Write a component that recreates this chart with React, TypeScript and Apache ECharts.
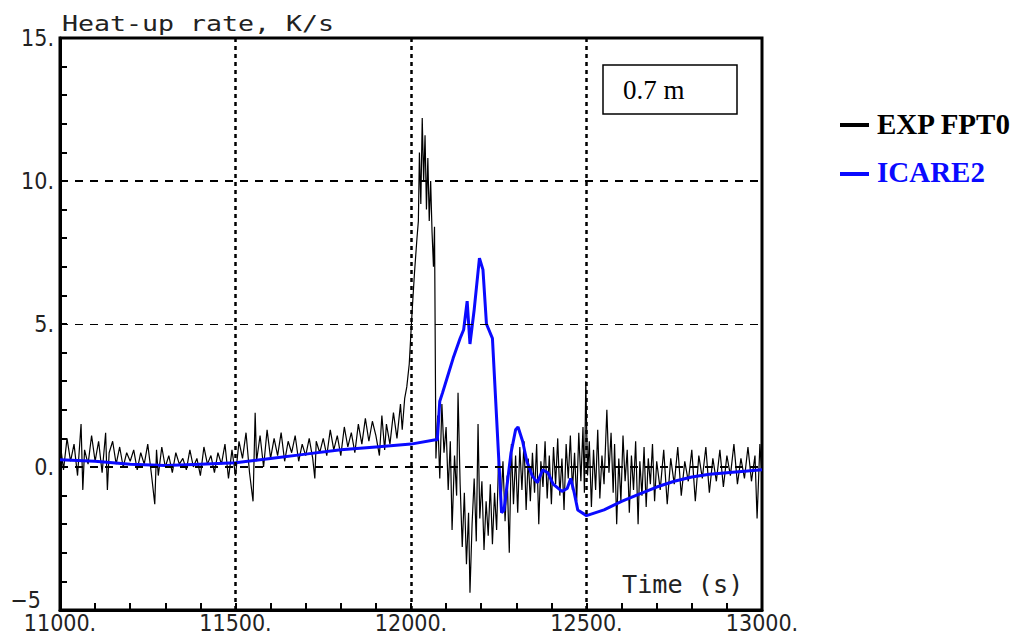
import React, { useEffect, useRef } from 'react';
import * as echarts from 'echarts';

const xRange = [11000, 13000];
const yRange = [-5, 15];
const xTickStep = 500;
const yTickStep = 5;
const verticalGrid = [11500, 12000, 12500];
const horizontalGrid = [10, 5, 0];
const seriesNames = ['EXP FPT0', 'ICARE2'];

const expData: [number, number][] = [
  [11000, 0.9], [11010, -0.1], [11020, 1.0], [11030, 0.2], [11040, 0.8], [11050, -0.3], [11060, 1.5], [11065, -0.8],
  [11070, 0.6], [11080, 0.1], [11090, 1.1], [11100, 0.2], [11110, 0.9], [11120, -0.2], [11130, 1.2], [11135, -0.8],
  [11140, 0.5], [11150, 0.9], [11160, 0.1], [11170, 0.7], [11180, 0.0], [11190, 0.5], [11200, 0.2], [11210, 0.6],
  [11220, -0.1], [11230, 0.5], [11240, 0.1], [11250, 0.8], [11260, -0.2], [11270, -1.3], [11275, 0.6], [11280, -0.3],
  [11290, 0.7], [11300, 0.0], [11310, 0.4], [11320, -0.2], [11330, 0.5], [11340, 0.1], [11350, 0.3], [11360, -0.1],
  [11370, 0.6], [11380, 0.0], [11390, 0.3], [11400, -0.3], [11410, 0.7], [11420, 0.1], [11430, 0.4], [11440, -0.2],
  [11450, 0.5], [11460, 0.1], [11470, 0.8], [11480, -0.4], [11490, 0.6], [11500, -0.3], [11510, 0.9], [11520, 0.3],
  [11530, 1.2], [11540, -0.2], [11550, -1.2], [11556, 1.9], [11560, 0.2], [11570, 1.1], [11580, 0.0], [11590, 1.3],
  [11600, 0.3], [11610, 1.0], [11620, 0.4], [11630, 1.2], [11640, 0.2], [11650, 0.9], [11660, 0.5], [11670, 1.1],
  [11680, 0.2], [11690, 0.8], [11700, 0.4], [11710, 1.0], [11720, 0.3], [11726, -0.4], [11730, 0.9], [11740, 0.5],
  [11750, 1.0], [11760, 0.4], [11770, 1.3], [11780, 0.6], [11790, 1.1], [11800, 0.4], [11810, 1.4], [11820, 0.7],
  [11830, 1.2], [11840, 0.5], [11850, 1.5], [11860, 0.8], [11870, 1.7], [11880, 0.9], [11890, 1.6], [11900, 1.1],
  [11910, 0.4], [11917, 1.8], [11925, 0.6], [11930, 1.5], [11940, 0.8], [11950, 1.9], [11960, 1.0], [11970, 2.2],
  [11975, 1.3], [11982, 2.4], [11988, 2.8], [11995, 3.6], [12003, 5.4], [12010, 6.8], [12017, 8.0], [12021, 8.6],
  [12024, 11.0], [12028, 9.2], [12032, 12.2], [12036, 10.0], [12040, 11.6], [12044, 9.0], [12048, 10.8], [12052, 8.6],
  [12056, 10.0], [12060, 8.2], [12064, 7.0], [12067, 8.4], [12071, 0.3], [12076, 1.8], [12082, -0.4], [12088, 2.2],
  [12094, 0.5], [12100, 1.4], [12106, -0.8], [12112, 0.9], [12117, -2.2], [12124, 0.4], [12130, -1.0], [12134, 2.6],
  [12140, -0.6], [12146, -2.8], [12152, -0.9], [12158, -3.4], [12164, -1.6], [12168, -4.4], [12174, -2.0], [12180, -0.4],
  [12186, -2.6], [12191, 1.5], [12196, -1.8], [12202, -0.5], [12208, -2.9], [12214, -1.2], [12220, -2.4], [12226, -0.6],
  [12232, -2.7], [12238, -0.9], [12244, -2.2], [12250, 0.5], [12256, -1.4], [12262, 0.2], [12268, -1.9], [12274, -0.3],
  [12280, -3.0], [12286, 0.8], [12292, -1.3], [12298, 0.4], [12304, -1.6], [12310, 0.7], [12316, -0.8], [12322, 0.9],
  [12328, -1.5], [12334, 0.3], [12340, -1.2], [12346, 0.5], [12352, -0.9], [12358, 0.8], [12364, -2.0], [12370, 0.2],
  [12376, -0.7], [12382, 0.9], [12388, -1.1], [12394, 0.4], [12400, -1.3], [12406, 0.7], [12412, -0.6], [12418, 1.0],
  [12424, -1.0], [12430, 0.3], [12436, -1.5], [12442, 0.8], [12448, -0.4], [12454, 1.1], [12460, -0.8], [12466, 0.5],
  [12472, -1.2], [12478, 1.2], [12484, -0.5], [12490, 1.4], [12494, -0.9], [12498, 3.0], [12503, -0.3], [12508, 0.9],
  [12514, -1.4], [12520, 0.6], [12526, -0.8], [12532, 1.3], [12538, -1.1], [12544, 0.4], [12550, -0.6], [12558, 2.0],
  [12564, -0.2], [12570, 1.2], [12576, -0.9], [12580, 0.8], [12586, -2.0], [12592, 0.3], [12598, -1.2], [12604, 1.1],
  [12610, -0.5], [12616, 0.6], [12622, -1.6], [12628, 0.4], [12634, -0.8], [12640, 0.9], [12647, -2.0], [12652, 0.2],
  [12658, -1.0], [12664, 0.7], [12670, -1.4], [12676, 0.3], [12682, -0.6], [12688, 0.8], [12694, -1.2], [12700, 0.2],
  [12710, -0.8], [12720, 0.6], [12730, -1.3], [12740, 0.3], [12750, -0.6], [12760, 0.7], [12770, -1.0], [12780, 0.2],
  [12790, -0.5], [12800, 0.6], [12810, -1.2], [12820, 0.4], [12830, -0.4], [12840, 0.7], [12850, -0.9], [12860, 0.3],
  [12870, -0.5], [12880, 0.6], [12890, -0.7], [12900, 0.4], [12910, -0.3], [12920, 0.8], [12930, -0.6], [12940, 0.3],
  [12950, -0.4], [12960, 0.7], [12970, -0.5], [12980, 0.4], [12986, -1.8], [12994, 0.8], [13000, -0.4],
];

// ICARE2 calculation (time s, rate K/s)
const icareData: [number, number][] = [
  [11000, 0.25], [11100, 0.2], [11200, 0.1], [11300, 0.05], [11400, 0.1], [11500, 0.15], [11600, 0.3],
  [11700, 0.45], [11800, 0.6], [11900, 0.7], [12000, 0.8], [12070, 0.95], [12075, 0.95], [12082, 2.3],
  [12090, 2.6], [12105, 3.2], [12120, 3.8], [12140, 4.5], [12150, 4.8], [12160, 5.8], [12168, 4.3], [12180, 5.5], [12195, 7.3],
  [12205, 6.9], [12215, 5.0], [12232, 4.5], [12258, -1.6], [12265, -1.5], [12285, 0.5], [12298, 1.3],
  [12305, 1.4], [12318, 0.9], [12330, 0.2], [12345, -0.3], [12360, -0.55], [12375, -0.1], [12390, -0.2],
  [12405, -0.6], [12430, -0.85], [12445, -0.75], [12455, -0.4], [12465, -0.9], [12475, -1.5], [12500, -1.7],
  [12550, -1.5], [12600, -1.2], [12650, -0.95], [12700, -0.7], [12750, -0.5], [12800, -0.35], [12850, -0.25],
  [12900, -0.2], [12950, -0.15], [13000, -0.1],
];

const labelFont = 'DejaVu Sans Condensed';

export default function App() {
  const ref = useRef<HTMLDivElement>(null);
  useEffect(() => {
    const chart = echarts.init(ref.current!, null, { renderer: 'svg' });
    const gridMarks: any[] = [
      ...verticalGrid.map((v) => ({ xAxis: v, lineStyle: { type: [4, 4], width: 2.5, color: '#000' } })),
      ...horizontalGrid.map((v) => ({
        yAxis: v,
        lineStyle: { type: [8, 7], width: v === 5 ? 1.2 : 2, color: '#000' },
      })),
    ];
    chart.setOption({
      animation: false,
      backgroundColor: '#fff',
      grid: { left: 60, right: 258, top: 38, bottom: 27, show: true, borderColor: '#000', borderWidth: 3, backgroundColor: 'transparent' },
      xAxis: {
        type: 'value', min: xRange[0], max: xRange[1], interval: xTickStep,
        axisLine: { show: true, onZero: false, lineStyle: { color: '#000', width: 3 } },
        axisTick: { show: true, inside: true, length: 7, lineStyle: { color: '#000', width: 2 } },
        minorTick: { show: true, splitNumber: 5, length: 7, lineStyle: { color: '#000', width: 2 } },
        splitLine: { show: false },
        axisLabel: { color: '#222', fontFamily: labelFont, fontSize: 23, margin: 1, formatter: (v: number) => v + '.' },
      },
      yAxis: {
        type: 'value', min: yRange[0], max: yRange[1], interval: yTickStep,
        axisLine: { show: true, onZero: false, lineStyle: { color: '#000', width: 3 } },
        axisTick: { show: true, inside: true, length: 7, lineStyle: { color: '#000', width: 2 } },
        minorTick: { show: true, splitNumber: 5, length: 7, lineStyle: { color: '#000', width: 2 } },
        splitLine: { show: false },
        axisLabel: {
          color: '#222', fontFamily: labelFont, fontSize: 23, margin: 6,
          formatter: (v: number) => (v === yRange[0] ? '' : v + '.'),
        },
      },
      series: [
        {
          type: 'line', data: [], z: 1, silent: true,
          markLine: { silent: true, symbol: ['none', 'none'], label: { show: false }, data: gridMarks },
        },
        {
          name: seriesNames[0], type: 'line', data: expData, showSymbol: false, z: 3,
          lineStyle: { color: '#000', width: 1.2 },
        },
        {
          name: seriesNames[1], type: 'line', data: icareData, showSymbol: false, z: 4,
          lineStyle: { color: '#0a0aff', width: 3 },
        },
      ],
      graphic: [
        { type: 'text', x: 41, y: 611, z: 10, style: { text: '\u2212' + Math.abs(yRange[0]), font: '23px "DejaVu Sans Condensed"', fill: '#222', textAlign: 'right', textVerticalAlign: 'bottom' } },
        { type: 'text', x: 62, y: 35, scaleX: 1.33, scaleY: 1.08, z: 10, style: { text: 'Heat-up rate, K/s', font: '20px "DejaVu Sans Mono"', fill: '#222', textVerticalAlign: 'bottom' } },
        { type: 'text', x: 622, y: 597, scaleX: 1.05, z: 10, style: { text: 'Time (s)', font: '24px "DejaVu Sans Mono"', fill: '#222', textVerticalAlign: 'bottom' } },
        { type: 'rect', z: 10, shape: { x: 603, y: 65, width: 134, height: 49 }, style: { fill: '#fff', stroke: '#000', lineWidth: 1.5 } },
        { type: 'text', x: 623, y: 90, z: 11, style: { text: '0.7 m', font: '27px "Liberation Serif"', fill: '#000', textVerticalAlign: 'middle' } },
        { type: 'line', z: 10, shape: { x1: 840, y1: 125, x2: 869, y2: 125 }, style: { stroke: '#000', lineWidth: 4 } },
        { type: 'text', x: 877, y: 124, z: 10, style: { text: seriesNames[0], font: 'bold 29px "Liberation Serif"', fill: '#000', textVerticalAlign: 'middle' } },
        { type: 'line', z: 10, shape: { x1: 840, y1: 174, x2: 869, y2: 174 }, style: { stroke: '#0a0aff', lineWidth: 4 } },
        { type: 'text', x: 877, y: 172, z: 10, style: { text: seriesNames[1], font: 'bold 29px "Liberation Serif"', fill: '#0a0aff', textVerticalAlign: 'middle' } },
      ],
    });
    return () => chart.dispose();
  }, []);
  return <div ref={ref} style={{ position: 'fixed', left: 0, top: 0, width: 1020, height: 637, background: '#fff' }} />;
}
